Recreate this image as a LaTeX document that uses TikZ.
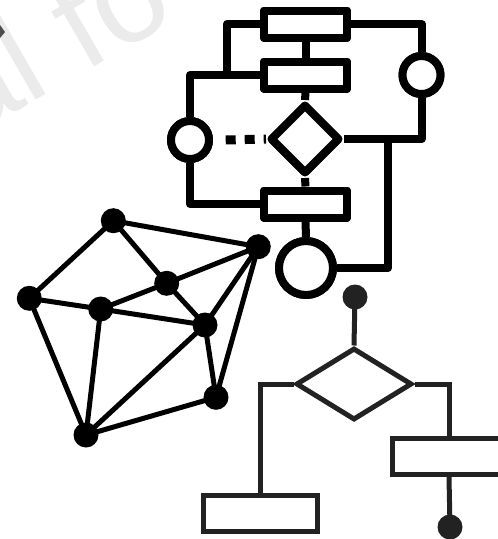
\documentclass[tikz,border=0pt]{standalone}
\usepackage{fontspec}
\setsansfont{Liberation Sans}
\usetikzlibrary{shapes.geometric,calc}
\definecolor{wm}{HTML}{EBEBEB}
\definecolor{ink}{HTML}{222222}
\tikzset{
  thick1/.style={line width=8pt, line join=round, draw=black},
  box1/.style={thick1, rectangle, inner sep=0pt, minimum width=83pt, minimum height=27pt, fill=white},
  ring1/.style={thick1, circle, inner sep=0pt, fill=white},
  dia1s/.style={thick1, diamond, inner sep=0pt, minimum width=70pt, minimum height=70pt, fill=white},
  gnode/.style={circle, fill=black, inner sep=0pt, minimum size=25pt},
  gedge/.style={line width=5pt, draw=black},
  thin2/.style={line width=5pt, draw=ink, line join=miter},
  box2/.style={thin2, rectangle, inner sep=0pt, minimum width=114pt, minimum height=36pt, fill=white},
  dia2s/.style={thin2, diamond, inner sep=0pt, minimum width=116pt, minimum height=72pt, fill=white},
  dot2/.style={circle, fill=ink, inner sep=0pt, minimum size=25pt}
}
\begin{document}
\begin{tikzpicture}[x=1pt,y=-1pt]
\useasboundingbox (0,0) rectangle (498,539);
\clip (0,0) rectangle (498,539);
% watermark
\node[text=wm, font=\sffamily\fontsize{130}{130}\selectfont, rotate=30, anchor=base west, inner sep=0pt] (wmark) at (-34,141) {al fo};
\fill[black!70] (0,25) -- (5,32) -- (0,38) -- cycle;

% ---------- top flowchart ----------
\coordinate (j1) at (227,75);
\coordinate (j2) at (388,139);
\node[box1] (r1) at (305.5,24) {};
\node[box1] (r2) at (305.5,75) {};
\node[dia1s] (d1) at (305,139) {};
\node[box1] (r3) at (305.5,204) {};
\node[ring1, minimum size=38pt] (cL) at (190,140) {};
\node[ring1, minimum size=38pt] (cR) at (421.5,75) {};
\node[ring1, minimum size=54pt] (cB) at (306,268) {};
\draw[thick1] (r1.south) -- (r2.north);
\draw[thick1] (r2.south) -- (d1.north);
\draw[thick1] (d1.south) -- (r3.north);
\draw[thick1] (r3.south) -- (cB.north);
\draw[thick1] (r1.west) -| (j1);
\draw[thick1] (r2.west) -| (cL.north);
\draw[thick1] (cL.south) |- (r3.west);
\draw[thick1] (d1.east) -| (cR.south);
\draw[thick1] (cR.north) |- (r1.east);
\draw[thick1] (cB.east) -| (j2);
\draw[line width=9pt, dash pattern=on 10pt off 9pt] ($(cL.east)+(12.7,0)$) -- (d1.west);
% redraw shapes on top
\node[box1] at (r1) {};
\node[box1] at (r2) {};
\node[dia1s] at (d1) {};
\node[box1] at (r3) {};
\node[ring1, minimum size=38pt] at (cL) {};
\node[ring1, minimum size=38pt] at (cR) {};
\node[ring1, minimum size=54pt] at (cB) {};

% ---------- graph ----------
\node[gnode] (A) at (113.3,220.7) {};
\node[gnode] (B) at (258.3,246.7) {};
\node[gnode] (C) at (29.3,298.3) {};
\node[gnode] (D) at (100.7,309) {};
\node[gnode] (E) at (166.7,283.3) {};
\node[gnode] (F) at (205,325) {};
\node[gnode] (G) at (216,397.3) {};
\node[gnode] (H) at (86,435) {};
\draw[gedge] (A.center) -- (B.center);
\draw[gedge] (A.center) -- (C.center);
\draw[gedge] (A.center) -- (E.center);
\draw[gedge] (B.center) -- (E.center);
\draw[gedge] (B.center) -- (F.center);
\draw[gedge] (B.center) -- (G.center);
\draw[gedge] (C.center) -- (D.center);
\draw[gedge] (C.center) -- (H.center);
\draw[gedge] (D.center) -- (E.center);
\draw[gedge] (D.center) -- (F.center);
\draw[gedge] (D.center) -- (H.center);
\draw[gedge] (E.center) -- (F.center);
\draw[gedge] (F.center) -- (G.center);
\draw[gedge] (F.center) -- (H.center);
\draw[gedge] (H.center) -- (G.center);

% ---------- bottom flowchart ----------
\node[dot2] (t1) at (355,297) {};
\node[dia2s] (d2) at (354,384) {};
\node[box2] (bl) at (260,513) {};
\node[box2] (br) at (449,456.5) {};
\node[dot2] (t2) at (450,527) {};
\draw[thin2] (t1.center) -- (d2.north);
\draw[thin2] (d2.west) -| (bl.north);
\draw[thin2] (d2.east) -| (br.north);
\draw[thin2] (br.south) -- (t2.center);
\end{tikzpicture}
\end{document}
